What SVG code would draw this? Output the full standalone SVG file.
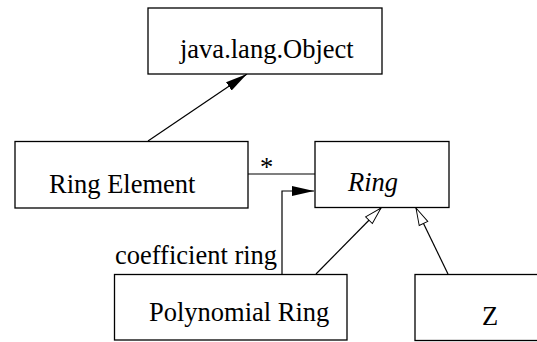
<svg xmlns="http://www.w3.org/2000/svg" width="537" height="342" viewBox="0 0 537 342">
<style>
.box{fill:#fff;stroke:#000;stroke-width:1.3}
.t{font-family:"Liberation Serif","Times New Roman",serif;font-size:26.5px;fill:#000}
.line{fill:none;stroke:#000;stroke-width:1.2}
</style>
<defs>
<marker id="filled" markerUnits="userSpaceOnUse" markerWidth="24" markerHeight="12" refX="22" refY="5" orient="auto" viewBox="0 0 24 12">
<path d="M0,0 L22,5 L0,10 z" fill="#000"/>
</marker>
<marker id="hollow" markerUnits="userSpaceOnUse" markerWidth="20" markerHeight="14" refX="18" refY="6" orient="auto" viewBox="-1 0 21 12">
<path d="M0,1 L18,6 L0,11 z" fill="#fff" stroke="#000" stroke-width="1"/>
</marker>
</defs>
<g id="connectors">
<line class="line" x1="148" y1="141" x2="247" y2="74" marker-end="url(#filled)"/>
<line class="line" x1="248" y1="174" x2="315" y2="174"/>
<text class="t" x="260" y="176">*</text>
<polyline class="line" points="282,274 282,191 314,191" marker-end="url(#filled)"/>
<text class="t" x="115" y="264">coefficient ring</text>
<line class="line" x1="316" y1="274" x2="381" y2="208" marker-end="url(#hollow)"/>
<line class="line" x1="448" y1="274" x2="416" y2="208" marker-end="url(#hollow)"/>
</g>
<g id="object">
<rect class="box" x="148" y="8" width="234" height="66"/>
<text class="t" x="180" y="58">java.lang.Object</text>
</g>
<g id="ringelement">
<rect class="box" x="15" y="141.5" width="233" height="66.5"/>
<text class="t" x="49" y="193">Ring Element</text>
</g>
<g id="ring">
<rect class="box" x="315" y="141.5" width="134" height="66"/>
<text class="t" x="348" y="191" font-style="italic">Ring</text>
</g>
<g id="polynomialring">
<rect class="box" x="114.5" y="274.5" width="232.5" height="65.5"/>
<text class="t" x="149" y="321">Polynomial Ring</text>
</g>
<g id="z">
<rect class="box" x="415" y="274.5" width="140" height="66"/>
<text class="t" x="482" y="325">Z</text>
</g>
</svg>
